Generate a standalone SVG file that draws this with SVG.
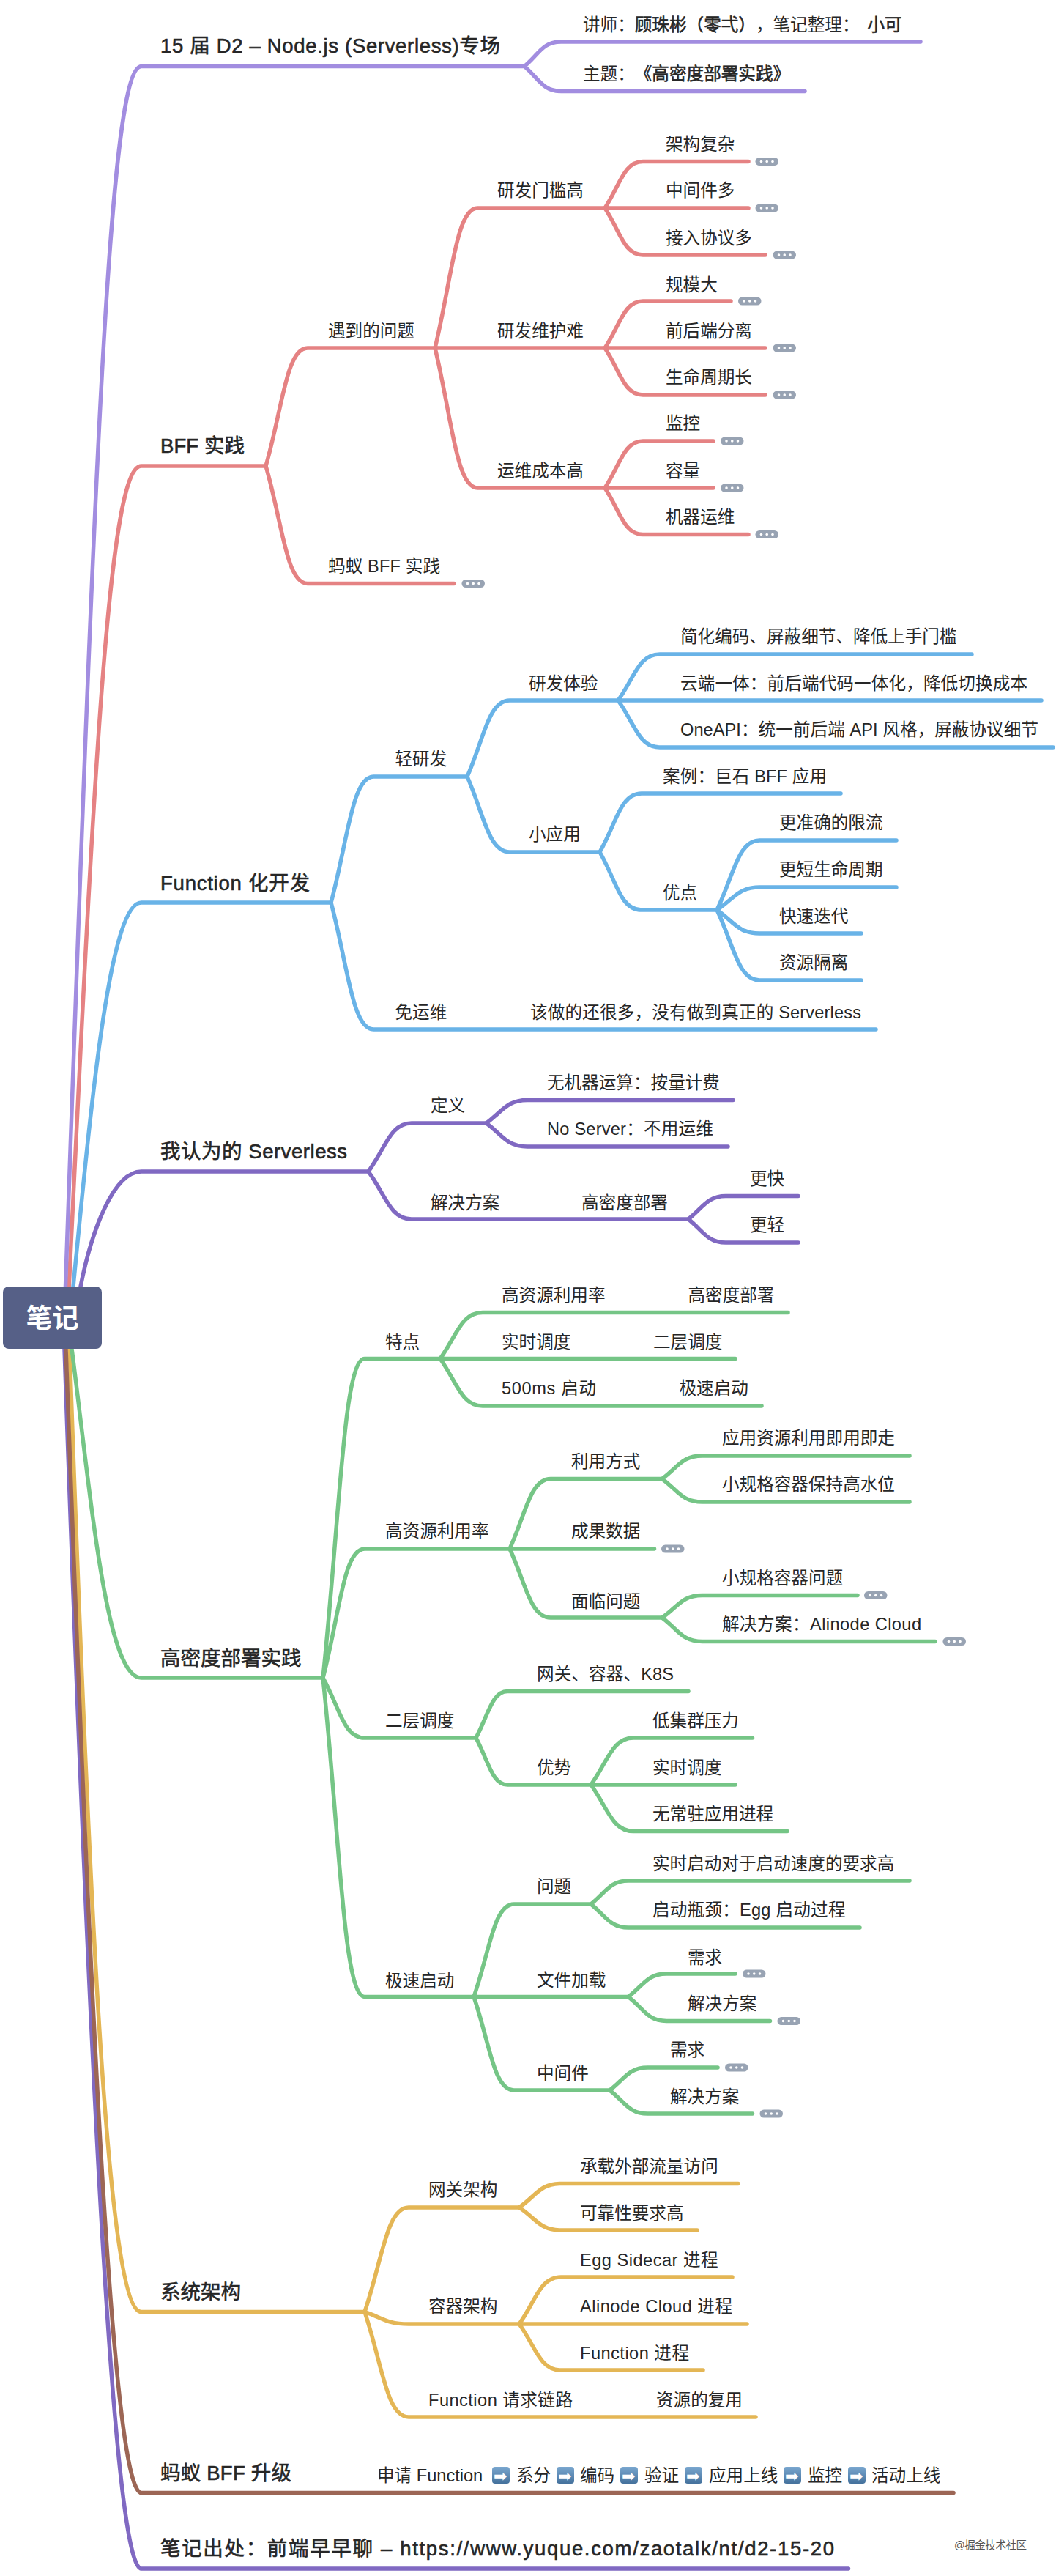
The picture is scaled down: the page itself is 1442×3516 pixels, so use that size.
<svg xmlns="http://www.w3.org/2000/svg" xmlns:xlink="http://www.w3.org/1999/xlink" width="1442" height="3516" viewBox="0 0 1442 3516">
<style>
text{font-family:"Liberation Sans","Noto Sans CJK SC",sans-serif;fill:#262626;font-size:23.6px;text-spacing-trim:space-all}
.l1{font-size:27.5px;stroke:#262626;stroke-width:.6px}
.bd{stroke:#262626;stroke-width:.6px}
.root{font-size:36px;font-weight:700;fill:#fff;text-anchor:middle}
.wm{font-size:14.5px;fill:#555}
.ar{font-family:"DejaVu Sans",sans-serif;fill:#fff;font-size:22px}
#connectors path{fill:none;stroke-width:5.5;stroke-linecap:round;stroke-linejoin:round}
.c1{stroke:#a28de0}.c2{stroke:#e58283}.c3{stroke:#69b3e7}.c4{stroke:#8069c2}
.c5{stroke:#75c586}.c6{stroke:#e4b655}.c7{stroke:#9c6655}.c8{stroke:#8069c2}
</style>
<defs>
<g id="more"><rect x="0" y="-5.500" width="31.500" height="11" rx="5.500" fill="#98a3b3"/><circle cx="8" cy="0" r="1.800" fill="#fff"/><circle cx="15.750" cy="0" r="1.800" fill="#fff"/><circle cx="23.500" cy="0" r="1.800" fill="#fff"/></g>
<linearGradient id="arrowbg" x1="0" y1="0" x2="0" y2="1"><stop offset="0" stop-color="#7aa7cf"/><stop offset="1" stop-color="#44719c"/></linearGradient>
<rect id="emoji" x="0" y="0" width="24" height="23" rx="4" fill="url(#arrowbg)"/>
</defs>
<rect width="1442" height="3516" fill="#fff"/>
<g id="connectors">
<path class="c8" d="M88 1841C128 3000 160 3506 193 3506H1158.500"/>
<path class="c6" d="M95 1841C125 2700 150 3155.500 193 3155.500H498"/>
<path class="c7" d="M90 1841C125 2800 155 3402.500 193 3402.500H1302"/>
<path class="c5" d="M98 1841C125 2050 145 2290 193 2290H441"/>
<path class="c4" d="M110 1756C125 1680 155 1599 193 1599H503"/>
<path class="c3" d="M100 1756C125 1500 150 1232 193 1232H452"/>
<path class="c2" d="M94 1760C130 1010 150 636 193 636H363"/>
<path class="c1" d="M88 1798C130 600 150 90.500 193 90.500H716"/>
<path class="c1" d="M716 90.500c20 -16.750 25 -33.500 50 -33.500H1257M716 90.500c20 17 25 34 50 34H1099"/>
<path class="c2" d="M363 636c23 -80 28 -161 57 -161H594M363 636c23 80 28 160.500 57 160.500H620"/>
<path class="c2" d="M594 475c23 -95 29 -191 58 -191H826M594 475H826M594 475c23 95 29 191 58 191H826"/>
<path class="c2" d="M826 284c21 -32 26 -63.500 52 -63.500H1022M826 284H1022M826 284c21 32 26 64 52 64H1045"/>
<path class="c2" d="M826 475c21 -32 26 -64 52 -64H998M826 475H1045M826 475c21 32 26 64 52 64H1045"/>
<path class="c2" d="M826 666c21 -32 26 -64 52 -64H974M826 666H974M826 666c21 32 26 63.500 52 63.500H1022"/>
<path class="c3" d="M452 1232c23 -86 29 -172 58 -172H638M452 1232c23 86 29 173 58 173H1196"/>
<path class="c3" d="M638 1060c23 -52 29 -104 58 -104H844M638 1060c23 52 29 103 58 103H819"/>
<path class="c3" d="M844 956c23 -32 28 -63 57 -63H1327M844 956H1422M844 956c23 32 28 64 57 64H1438"/>
<path class="c3" d="M819 1163c23 -40 28 -80 57 -80H1148M819 1163c23 40 28 79 57 79H979"/>
<path class="c3" d="M979 1242c23 -48 29 -95 58 -95H1224M979 1242c23 -15 29 -31 58 -31H1224M979 1242c23 16 29 32 58 32H1176M979 1242c23 48 29 96 58 96H1176"/>
<path class="c4" d="M503 1599c24 -33 30 -66 59 -66H664M503 1599c24 33 30 65 59 65H940"/>
<path class="c4" d="M664 1533c22 -16 28 -31.500 56 -31.500H1001M664 1533c22 16 28 32 56 32H994"/>
<path class="c4" d="M940 1664c20 -16 26 -31.500 51 -31.500H1090M940 1664c20 16 26 32 51 32H1090"/>
<path class="c5" d="M441 2290c23 -218 28 -435.500 57 -435.500H601M441 2290c23 -88 28 -176 57 -176H696M441 2290c23 41 28 82 57 82H650M441 2290c23 218 28 435.500 57 435.500H647"/>
<path class="c5" d="M601 1854.500c23 -32 29 -63 58 -63H1076M601 1854.500H1004M601 1854.500c23 32 29 64.500 58 64.500H1040"/>
<path class="c5" d="M696 2114c22 -48 28 -95.500 56 -95.500H904M696 2114H893.500M696 2114c22 47 28 94 56 94H904"/>
<path class="c5" d="M904 2018.500c22 -16 27 -31.500 55 -31.500H1242M904 2018.500c22 16 27 31.500 55 31.500H1242"/>
<path class="c5" d="M904 2208c22 -15 27 -30.500 55 -30.500H1171M904 2208c22 16 27 32.500 55 32.500H1277"/>
<path class="c5" d="M650 2372c17 -32 22 -63.500 43 -63.500H940M650 2372c17 32 22 64 43 64H807"/>
<path class="c5" d="M807 2436c23 -32 29 -64 58 -64H1027.500M807 2436H1004M807 2436c23 32 29 63.500 58 63.500H1075"/>
<path class="c5" d="M647 2725.500c22 -63 27 -126.500 55 -126.500H807M647 2725.500H858M647 2725.500c22 64 27 127.500 55 127.500H832.500"/>
<path class="c5" d="M807 2599c20 -16 26 -32 51 -32H1242M807 2599c20 16 26 32 51 32H1174"/>
<path class="c5" d="M858 2725.500c21 -16 26 -31.500 52 -31.500H1004M858 2725.500c21 16 26 33 52 33H1051.500"/>
<path class="c5" d="M832.500 2853c21 -16 26 -31 52 -31H980M832.500 2853c21 16 26 32 52 32H1027.500"/>
<path class="c6" d="M498 3155.500c24 -71 30 -142.500 60 -142.500H709M498 3155.500c24 8 30 16.500 60 16.500H709M498 3155.500c24 72 30 143.500 60 143.500H1032"/>
<path class="c6" d="M709 3013c23 -16 28 -32.500 57 -32.500H1008M709 3013c23 15 28 31 57 31H952"/>
<path class="c6" d="M709 3172c23 -32 28 -64 57 -64H1000M709 3172H1020M709 3172c23 32 28 63 57 63H960"/>
</g>
<g id="root"><rect x="4" y="1756" width="135" height="85" rx="8" fill="#566087"/><text class="root" x="71.500" y="1812">笔记</text></g>
<g id="n-d2"><text class="l1" x="219" y="72" textLength="464">15 届 D2 – Node.js (Serverless)专场</text></g>
<g id="n-speaker"><text x="796" y="41.500">讲师：<tspan class="bd">顾珠彬（零弌）</tspan>，笔记整理： <tspan class="bd" x="1184.500">小可</tspan></text></g>
<g id="n-topic"><text x="796" y="108.500">主题：<tspan class="bd">《高密度部署实践》</tspan></text></g>
<g id="n-bff"><text class="l1" x="219" y="618" textLength="115">BFF 实践</text></g>
<g id="n-issues"><text x="448" y="459.500">遇到的问题</text></g>
<g id="n-antbff"><text x="448" y="780.500" textLength="153">蚂蚁 BFF 实践</text><use href="#more" x="630.500" y="796.500"/></g>
<g id="n-rd1"><text x="679" y="267.500">研发门槛高</text></g>
<g id="n-rd2"><text x="679" y="459.500">研发维护难</text></g>
<g id="n-rd3"><text x="679" y="650.500">运维成本高</text></g>
<g id="n-a1"><text x="909" y="204.500">架构复杂</text><use href="#more" x="1031.500" y="220.500"/></g>
<g id="n-a2"><text x="909" y="267.500">中间件多</text><use href="#more" x="1031.500" y="284"/></g>
<g id="n-a3"><text x="909" y="332.500">接入协议多</text><use href="#more" x="1055.500" y="348"/></g>
<g id="n-a4"><text x="909" y="396.500">规模大</text><use href="#more" x="1008" y="411"/></g>
<g id="n-a5"><text x="909" y="459.500">前后端分离</text><use href="#more" x="1055.500" y="475"/></g>
<g id="n-a6"><text x="909" y="522.500">生命周期长</text><use href="#more" x="1055.500" y="539"/></g>
<g id="n-a7"><text x="909" y="585.500">监控</text><use href="#more" x="984" y="602"/></g>
<g id="n-a8"><text x="909" y="650.500">容量</text><use href="#more" x="984" y="666"/></g>
<g id="n-a9"><text x="909" y="713.500">机器运维</text><use href="#more" x="1031.500" y="729.500"/></g>
<g id="n-fn"><text class="l1" x="219" y="1215" textLength="204">Function 化开发</text></g>
<g id="n-light"><text x="539.500" y="1043.500">轻研发</text></g>
<g id="n-noops"><text x="539.500" y="1389.500">免运维</text></g>
<g id="n-noops1"><text x="724" y="1389.500" textLength="452">该做的还很多，没有做到真正的 Serverless</text></g>
<g id="n-exp"><text x="722" y="940.500">研发体验</text></g>
<g id="n-small"><text x="722" y="1146.500">小应用</text></g>
<g id="n-e1"><text x="929" y="877">简化编码、屏蔽细节、降低上手门槛</text></g>
<g id="n-e2"><text x="929" y="940.500" textLength="474">云端一体：前后端代码一体化，降低切换成本</text></g>
<g id="n-e3"><text x="929" y="1003.500" textLength="489">OneAPI：统一前后端 API 风格，屏蔽协议细节</text></g>
<g id="n-case"><text x="905" y="1067.500" textLength="224">案例：巨石 BFF 应用</text></g>
<g id="n-pro"><text x="905" y="1226.500">优点</text></g>
<g id="n-p1"><text x="1064" y="1131">更准确的限流</text></g>
<g id="n-p2"><text x="1064" y="1194.500">更短生命周期</text></g>
<g id="n-p3"><text x="1064" y="1258.500">快速迭代</text></g>
<g id="n-p4"><text x="1064" y="1321.500">资源隔离</text></g>
<g id="n-my"><text class="l1" x="219" y="1581" textLength="255">我认为的 Serverless</text></g>
<g id="n-def"><text x="588" y="1516.500">定义</text></g>
<g id="n-sol"><text x="588" y="1649.500">解决方案</text></g>
<g id="n-d1"><text x="747" y="1485.500">无机器运算：按量计费</text></g>
<g id="n-d2b"><text x="747" y="1549" textLength="227">No Server：不用运维</text></g>
<g id="n-dense"><text x="794" y="1649.500">高密度部署</text></g>
<g id="n-fast"><text x="1024" y="1616.500">更快</text></g>
<g id="n-lite"><text x="1024" y="1680">更轻</text></g>
<g id="n-hd"><text class="l1" x="219" y="2273">高密度部署实践</text></g>
<g id="n-feat"><text x="526" y="1840">特点</text></g>
<g id="n-res"><text x="526" y="2097.500">高资源利用率</text></g>
<g id="n-two"><text x="526" y="2356.500">二层调度</text></g>
<g id="n-boot"><text x="526" y="2711.500">极速启动</text></g>
<g id="n-f1"><text x="685" y="1775.500">高资源利用率</text></g>
<g id="n-f1b"><text x="939.500" y="1775.500">高密度部署</text></g>
<g id="n-f2"><text x="685" y="1840">实时调度</text></g>
<g id="n-f2b"><text x="892" y="1840">二层调度</text></g>
<g id="n-f3"><text x="685" y="1903" textLength="129">500ms 启动</text></g>
<g id="n-f3b"><text x="927.500" y="1903">极速启动</text></g>
<g id="n-use"><text x="780" y="2002.500">利用方式</text></g>
<g id="n-data"><text x="780" y="2097.500">成果数据</text><use href="#more" x="903" y="2114"/></g>
<g id="n-face"><text x="780" y="2193.500">面临问题</text></g>
<g id="n-u1"><text x="986" y="1971">应用资源利用即用即走</text></g>
<g id="n-u2"><text x="986" y="2034">小规格容器保持高水位</text></g>
<g id="n-q1"><text x="986" y="2162">小规格容器问题</text><use href="#more" x="1180" y="2177.500"/></g>
<g id="n-q2"><text x="986" y="2225" textLength="272">解决方案：Alinode Cloud</text><use href="#more" x="1287.500" y="2240.500"/></g>
<g id="n-gw"><text x="733" y="2293" textLength="187">网关、容器、K8S</text></g>
<g id="n-adv"><text x="733" y="2420.500">优势</text></g>
<g id="n-v1"><text x="891" y="2356.500">低集群压力</text></g>
<g id="n-v2"><text x="891" y="2420.500">实时调度</text></g>
<g id="n-v3"><text x="891" y="2483.500">无常驻应用进程</text></g>
<g id="n-bq"><text x="733" y="2582.500">问题</text></g>
<g id="n-file"><text x="733" y="2710.500">文件加载</text></g>
<g id="n-mid"><text x="733" y="2837.500">中间件</text></g>
<g id="n-bq1"><text x="891" y="2551.500">实时启动对于启动速度的要求高</text></g>
<g id="n-bq2"><text x="891" y="2614.500" textLength="263.500">启动瓶颈：Egg 启动过程</text></g>
<g id="n-fl1"><text x="939" y="2679.500">需求</text><use href="#more" x="1014" y="2694"/></g>
<g id="n-fl2"><text x="939" y="2742.500">解决方案</text><use href="#more" x="1061.500" y="2758.500"/></g>
<g id="n-md1"><text x="915" y="2805.500">需求</text><use href="#more" x="990" y="2822"/></g>
<g id="n-md2"><text x="915" y="2869.500">解决方案</text><use href="#more" x="1037.500" y="2885"/></g>
<g id="n-sys"><text class="l1" x="219" y="3138">系统架构</text></g>
<g id="n-gwa"><text x="585" y="2996.500">网关架构</text></g>
<g id="n-cta"><text x="585" y="3156">容器架构</text></g>
<g id="n-fnl"><text x="585" y="3283.500" textLength="197">Function 请求链路</text></g>
<g id="n-fnl1"><text x="896" y="3283.500">资源的复用</text></g>
<g id="n-g1"><text x="792" y="2964.500">承载外部流量访问</text></g>
<g id="n-g2"><text x="792" y="3028.500">可靠性要求高</text></g>
<g id="n-c1"><text x="792" y="3093" textLength="188.700">Egg Sidecar 进程</text></g>
<g id="n-c2"><text x="792" y="3156" textLength="208">Alinode Cloud 进程</text></g>
<g id="n-c3"><text x="792" y="3219.500" textLength="149">Function 进程</text></g>
<g id="n-up"><text class="l1" x="219" y="3385" textLength="179">蚂蚁 BFF 升级</text></g>
<g id="n-flow">
<use href="#emoji" x="672" y="3367"/><use href="#emoji" x="760" y="3367"/><use href="#emoji" x="847" y="3367"/><use href="#emoji" x="935" y="3367"/><use href="#emoji" x="1070" y="3367"/><use href="#emoji" x="1158" y="3367"/>
<text y="3387"><tspan x="515">申请 Function</tspan><tspan class="ar" x="674">➡</tspan><tspan x="705">系分</tspan><tspan class="ar" x="762">➡</tspan><tspan x="792">编码</tspan><tspan class="ar" x="849">➡</tspan><tspan x="880">验证</tspan><tspan class="ar" x="937">➡</tspan><tspan x="968">应用上线</tspan><tspan class="ar" x="1072">➡</tspan><tspan x="1103">监控</tspan><tspan class="ar" x="1160">➡</tspan><tspan x="1190">活动上线</tspan></text>
</g>
<g id="n-src"><text class="l1" x="219" y="3488" textLength="920">笔记出处：前端早早聊 – https://www.yuque.com/zaotalk/nt/d2-15-20</text></g>
<g id="watermark"><text class="wm" x="1303" y="3479" textLength="99">@掘金技术社区</text></g>
</svg>
